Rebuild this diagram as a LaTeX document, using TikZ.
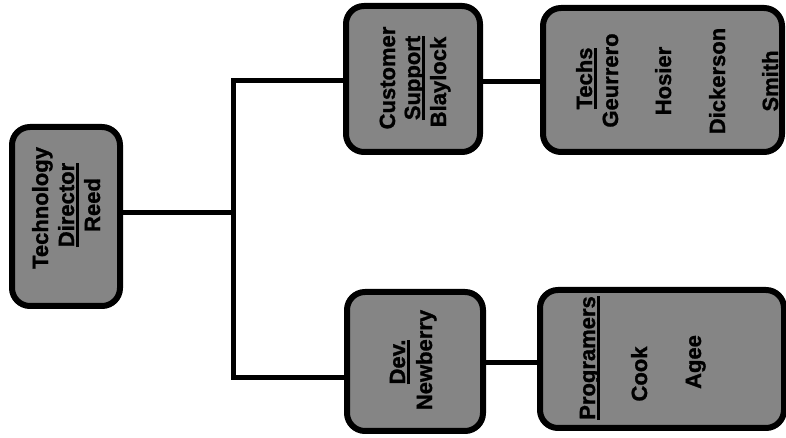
\documentclass[tikz,border=0pt]{standalone}
\usepackage{fontspec}
\setmainfont{Liberation Sans}[BoldFeatures={FakeBold=1.2}]
\newcommand\ulword[1]{\setbox0\hbox{#1}\rlap{\copy0}\rule[-4.75pt]{\wd0}{2.5pt}}
\begin{document}
\begin{tikzpicture}[x=1pt,y=1pt,
  box/.style={draw, line width=6pt, rounded corners=18pt, fill=black!48, inner sep=0pt},
  wire/.style={line width=5pt},
  lbl/.style={rotate=90, anchor=base, inner sep=0pt, font=\fontsize{22}{26}\selectfont\bfseries},
]
\useasboundingbox (0,0) rectangle (786,438);
% boxes
\node[box, minimum width=108pt, minimum height=179pt] (dir) at (66,221.5) {};
\node[box, minimum width=134pt, minimum height=146pt] (cs) at (413,359) {};
\node[box, minimum width=239pt, minimum height=144pt] (techs) at (662.5,358) {};
\node[box, minimum width=136pt, minimum height=139pt] (dev) at (415,76.5) {};
\node[box, minimum width=244pt, minimum height=138pt] (prog) at (662,79) {};
% connectors
\coordinate (j) at (233,225);
\coordinate (jt) at (233,357);
\coordinate (jb) at (233,60);
\coordinate (a) at (510,356);
\coordinate (b) at (510,75);
\draw[wire] (dir.east |- j) -- (j);
\draw[wire] (cs.west |- jt) -- (jt) -- (jb) -- (dev.west |- jb);
\draw[wire] (cs.east |- a) -- (techs.west |- a);
\draw[wire] (dev.east |- b) -- (prog.west |- b);
% texts
\node[lbl] (t1) at (48,230) {Technology};
\node[lbl] (t2) at (74,233) {\ulword{Director}};
\node[lbl] (t3) at (100,233) {Reed};
\node[lbl] (c1) at (395,360) {Customer};
\node[lbl] (c2) at (420,360) {\ulword{Support}};
\node[lbl] (c3) at (446,356) {Blaylock};
\node[lbl] (h1) at (592,359.5) {\ulword{Techs}};
\node[lbl] (h2) at (618,357.5) {Geurrero};
\node[lbl] (h3) at (671,357) {Hosier};
\node[lbl] (h4) at (725,357) {Dickerson};
\node[lbl] (h5) at (778,357) {Smith};
\node[lbl] (d1) at (405,76) {\ulword{Dev.}};
\node[lbl] (d2) at (432,78) {Newberry};
\node[lbl] (p1) at (595,80) {\ulword{Programers}};
\node[lbl] (p2) at (647,64) {Cook};
\node[lbl] (p3) at (701,76) {Agee};
\end{tikzpicture}
\end{document}
